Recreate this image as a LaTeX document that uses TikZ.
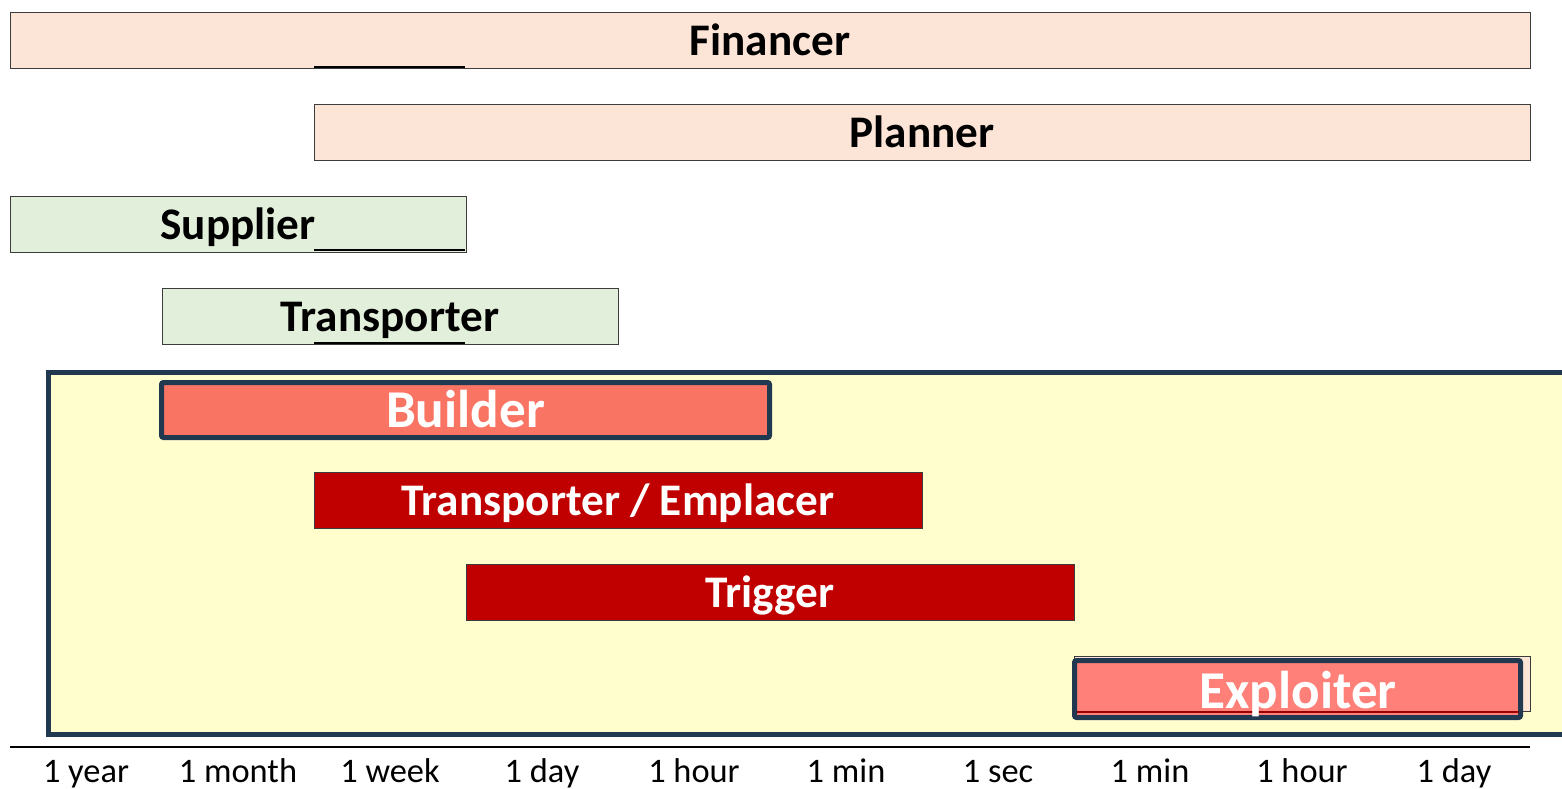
\documentclass[tikz,border=0pt]{standalone}
\usepackage{fontspec}
\setmainfont{Carlito}
\definecolor{peachc}{RGB}{252,228,214}
\definecolor{greenc}{RGB}{226,239,218}
\definecolor{yellowc}{RGB}{255,254,204}
\definecolor{navyc}{RGB}{32,56,80}
\definecolor{redc}{RGB}{192,0,0}
\definecolor{salmonc}{RGB}{250,116,100}
\definecolor{salmonb}{RGB}{255,128,120}
\definecolor{barline}{RGB}{60,60,60}
\tikzset{
  bar/.style={draw=barline, line width=0.5pt, inner sep=0pt, minimum height=28pt,
    font=\bfseries\fontsize{22.6}{24}\selectfont, text height=14.5pt, text depth=0pt},
  peachbar/.style={bar, fill=peachc, text=black},
  greenbar/.style={bar, fill=greenc, text=black},
  redbar/.style={bar, fill=redc, text=white},
  hibar/.style={draw=navyc, line width=2.5pt, rounded corners=1pt, inner sep=0pt,
    text=white, font=\bfseries\fontsize{26.6}{28}\selectfont, text height=17pt, text depth=0pt},
  seg/.style={line width=1.1pt, black},
  tick/.style={font=\fontsize{17.2}{18}\selectfont, inner sep=0pt, anchor=base}
}
\begin{document}
\begin{tikzpicture}[x=0.5pt,y=-0.5pt]
\useasboundingbox (0,0) rectangle (1562,788);
% rows above
\node[peachbar, minimum width=760pt] (fin) at (770,40.5) {Financer};
\node[peachbar, minimum width=608pt] (plan) at (922,132.5) {Planner};
\node[greenbar, minimum width=228pt] (sup) at (238,224.5) {Supplier};
\node[greenbar, minimum width=228pt] (trans) at (390,316.5) {Transporter};
% black segments
\coordinate (s1a) at (314,67);  \coordinate (s1b) at (465,67);
\coordinate (s2a) at (314,250); \coordinate (s2b) at (465,250);
\coordinate (s3a) at (314,343); \coordinate (s3b) at (465,343);
\draw[seg] (s1a) -- (s1b);
\draw[seg] (s2a) -- (s2b);
\draw[seg] (s3a) -- (s3b);
% yellow frame
\node[draw=navyc, fill=yellowc, line width=2.5pt, inner sep=0pt, minimum width=766pt,
  minimum height=181pt] (frame) at (814,553) {};
% inner bars
\node[hibar, fill=salmonc, minimum width=304pt, minimum height=27.5pt] (build) at (465.5,410) {Builder};
\node[redbar, minimum width=304pt, text=white] (emp) at (618,500.5) {Transporter / Emplacer};
\node[redbar, minimum width=304pt, text=white] (trig) at (770,592.5) {Trigger};
\node[bar, fill=peachc, minimum width=228pt, minimum height=27.5pt] (expb) at (1302,683.5) {};
\node[hibar, fill=salmonb, minimum width=223pt, minimum height=28.5pt] (exp) at (1297.5,689) {};
\coordinate (ra) at (1077,712); \coordinate (rb) at (1519,712);
\draw[redc!80!black, line width=0.8pt] (ra) -- (rb);
\node[text=white, font=\bfseries\fontsize{26.6}{28}\selectfont, inner sep=0pt,
  text height=17pt, text depth=0pt] (explbl) at (1298,691) {Exploiter};
% axis
\coordinate (ax1) at (10,747); \coordinate (ax2) at (1530,747);
\draw[line width=0.6pt] (ax1) -- (ax2);
\node[tick] (t1) at (86,782) {1 year};
\node[tick] (t2) at (238,782) {1 month};
\node[tick] (t3) at (390,782) {1 week};
\node[tick] (t4) at (542,782) {1 day};
\node[tick] (t5) at (694,782) {1 hour};
\node[tick] (t6) at (846,782) {1 min};
\node[tick] (t7) at (998,782) {1 sec};
\node[tick] (t8) at (1150,782) {1 min};
\node[tick] (t9) at (1302,782) {1 hour};
\node[tick] (t10) at (1454,782) {1 day};
\end{tikzpicture}
\end{document}
